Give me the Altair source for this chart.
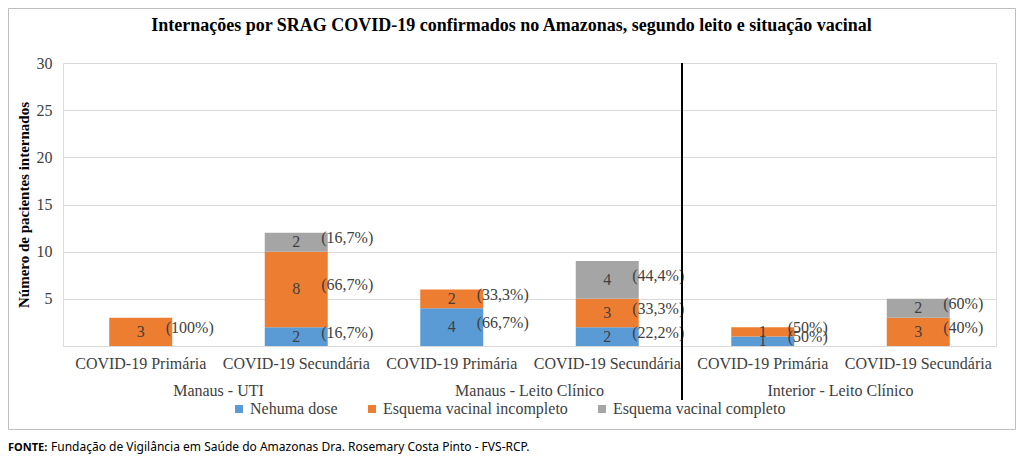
import altair as alt
import pandas as pd

# ---- data ----
groups = ["Manaus - UTI", "Manaus - UTI",
          "Manaus - Leito Clínico", "Manaus - Leito Clínico",
          "Interior - Leito Clínico", "Interior - Leito Clínico"]
subcats = ["COVID-19 Primária", "COVID-19 Secundária",
           "COVID-19 Primária", "COVID-19 Secundária",
           "COVID-19 Primária", "COVID-19 Secundária"]
group_names = ["Manaus - UTI", "Manaus - Leito Clínico", "Interior - Leito Clínico"]
series = ["Nehuma dose", "Esquema vacinal incompleto", "Esquema vacinal completo"]
nenhuma_dose = [0, 2, 4, 2, 1, 0]
incompleto = [3, 8, 2, 3, 1, 3]
completo = [0, 2, 0, 4, 0, 2]
pct_nenhuma = ["", "(16,7%)", "(66,7%)", "(22,2%)", "(50%)", ""]
pct_incompleto = ["(100%)", "(66,7%)", "(33,3%)", "(33,3%)", "(50%)", "(40%)"]
pct_completo = ["", "(16,7%)", "", "(44,4%)", "", "(60%)"]
colors = ["#5B9BD5", "#ED7D31", "#A5A5A5"]
y_ticks = [5, 10, 15, 20, 25, 30]

title_text = "Internações por SRAG COVID-19 confirmados no Amazonas, segundo leito e situação vacinal"
y_title = "Número de pacientes internados"
source_bold = "FONTE:"
source_text = "Fundação de Vigilância em Saúde do Amazonas Dra. Rosemary Costa Pinto - FVS-RCP."
separator_group = "Interior - Leito Clínico"

# ---- build table ----
keys = [f"{g}|{s}" for g, s in zip(groups, subcats)]
values = [nenhuma_dose, incompleto, completo]
pcts_all = [pct_nenhuma, pct_incompleto, pct_completo]
rows = []
for i, key in enumerate(keys):
    for j in range(3):
        v = values[j][i]
        if v <= 0:
            continue
        rows.append({"key": key, "group": groups[i], "series": series[j],
                     "order": j, "value": v, "pct": pcts_all[j][i]})
df = pd.DataFrame(rows)

W, H = 933, 283
SERIF = "Liberation Serif"
TXT = "#404040"
GRID = "#d9d9d9"

x_scale = alt.Scale(domain=keys, paddingInner=0.595, paddingOuter=0.2975)
y_scale = alt.Scale(domain=[0, 30], nice=False)

base = alt.Chart(df).transform_stack(
    stack="value", groupby=["key"], as_=["y0", "y1"],
    sort=[alt.SortField("order", order="ascending")]
).transform_calculate(mid="(datum.y0 + datum.y1) / 2")

bars = base.mark_bar().encode(
    x=alt.X("key:N", scale=x_scale, sort=keys,
            axis=alt.Axis(title=None, labelExpr="split(datum.label, '|')[1]",
                          labelAngle=0, ticks=False, domainColor=GRID,
                          labelFont=SERIF, labelFontSize=16, labelColor=TXT,
                          labelPadding=9, labelBaseline="top")),
    y=alt.Y("y1:Q", scale=y_scale,
            axis=alt.Axis(values=y_ticks, title=y_title, domain=False, ticks=False,
                          gridColor=GRID, labelFont=SERIF, labelFontSize=16,
                          labelColor=TXT, labelPadding=11,
                          titleFont=SERIF, titleFontSize=15, titleFontWeight="bold",
                          titleColor="#000000", titleX=-40, titleY=H / 2,
                          titleAngle=270, titleBaseline="middle", titleAlign="center")),
    y2="y0:Q",
    color=alt.Color("series:N", scale=alt.Scale(domain=series, range=colors),
                    legend=alt.Legend(title=None, orient="none", legendX=168, legendY=338,
                                      direction="horizontal", columns=3,
                                      symbolType="square", symbolSize=64,
                                      symbolStrokeWidth=0, labelFont=SERIF,
                                      labelFontSize=16, labelColor=TXT, labelLimit=0,
                                      labelOffset=3, columnPadding=26, padding=0)),
)

nums = base.mark_text(font=SERIF, fontSize=16, color=TXT, baseline="middle").encode(
    x=alt.X("key:N", scale=x_scale, sort=keys),
    y=alt.Y("mid:Q", scale=y_scale),
    text="value:Q",
)

pcts = base.mark_text(font=SERIF, fontSize=16, color=TXT, baseline="middle",
                      align="left", dx=25, dy=-4).encode(
    x=alt.X("key:N", scale=x_scale, sort=keys),
    y=alt.Y("mid:Q", scale=y_scale),
    text="pct:N",
)

one = pd.DataFrame({"a": [0]})
frame = alt.Chart(one).mark_rect(
    fill=None, stroke="#bfbfbf", strokeWidth=1).encode(
    x=alt.value(-54.5), x2=alt.value(W + 19.5),
    y=alt.value(-54.5), y2=alt.value(H + 83.5))

title = alt.Chart(pd.DataFrame({"t": [title_text]})).mark_text(
    font=SERIF, fontSize=18, fontWeight="bold", align="center",
    baseline="alphabetic", color="#000000").encode(
    x=alt.value(W / 2 - 18), y=alt.value(-32), text="t:N")

src1 = alt.Chart(pd.DataFrame({"t": [source_bold]})).mark_text(
    font="Noto Sans", fontSize=11, fontWeight="bold", align="left",
    baseline="alphabetic", color="#000000").encode(
    x=alt.value(-55), y=alt.value(H + 105), text="t:N")
src2 = alt.Chart(pd.DataFrame({"t": [source_text]})).mark_text(
    font="Noto Sans", fontSize=12, align="left",
    baseline="alphabetic", color="#000000").encode(
    x=alt.value(-12), y=alt.value(H + 105), text="t:N")

main = alt.layer(frame, title, bars, nums, pcts, src1, src2)

grp_scale = alt.Scale(domain=group_names, paddingInner=0, paddingOuter=0)
grp_df = pd.DataFrame({"group": group_names})
grp_labels = alt.Chart(grp_df).mark_text(
    font=SERIF, fontSize=16, color=TXT, baseline="middle").encode(
    x=alt.X("group:N", scale=grp_scale, sort=group_names,
            axis=alt.Axis(orient="bottom", title=None, labels=False, domain=False,
                          tickBand="extent", tickSize=54, tickColor=GRID)),
    y=alt.value(H + 45),
    text="group:N",
)
sep = alt.Chart(grp_df).transform_filter(
    alt.datum.group == separator_group
).mark_rule(color="#000000", strokeWidth=2, xOffset=-3).encode(
    x=alt.X("group:N", scale=grp_scale, sort=group_names, bandPosition=0, axis=None),
    y=alt.value(0), y2=alt.value(H + 54),
)
grp = alt.layer(grp_labels, sep)

chart = alt.layer(main, grp).resolve_scale(x="independent").properties(
    width=W, height=H,
    autosize=alt.AutoSizeParams(type="none"),
    padding={"left": 55, "top": 55, "right": 20, "bottom": 108},
).configure_view(stroke=None).configure(background="white")

chart.save("out.html", embed_options={"renderer": "svg", "actions": False})
